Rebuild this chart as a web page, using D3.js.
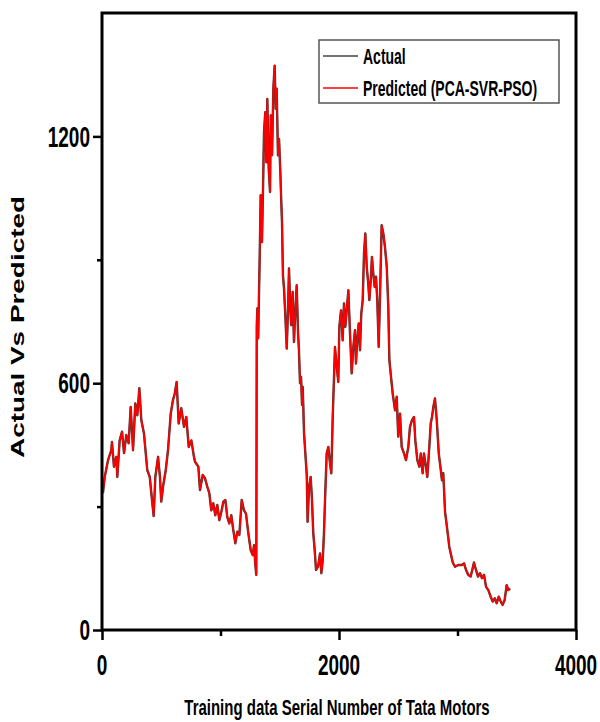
<!DOCTYPE html>
<html>
<head>
<meta charset="utf-8">
<script src="https://cdn.jsdelivr.net/npm/d3@7"></script>
<style>
  body { margin: 0; background: #fff; }
  text { font-family: "Liberation Sans", Arial, sans-serif; font-weight: bold; }
</style>
</head>
<body>
<div id="chart"></div>
<script>
// serial numbers (x) and values
var serialNo = [8, 23, 51, 78, 84, 101, 121, 129, 149, 169, 186, 205, 225, 242, 262, 281, 298, 315, 332, 354,
  382, 403, 422, 436, 450, 473, 489, 500, 517, 538, 557, 580, 599, 614, 630, 647, 669, 692, 711, 732,
  754, 776, 785, 813, 827, 850, 869, 889, 906, 922, 939, 956, 973, 990, 1010, 1024, 1041, 1057, 1074, 1091,
  1108, 1125, 1142, 1159, 1179, 1198, 1215, 1235, 1255, 1272, 1283, 1294, 1302, 1306, 1311, 1318, 1331, 1339, 1350, 1359,
  1367, 1378, 1387, 1395, 1407, 1418, 1424, 1435, 1446, 1457, 1466, 1474, 1485, 1494, 1505, 1513, 1519, 1527, 1536, 1547,
  1559, 1570, 1578, 1589, 1597, 1609, 1620, 1631, 1643, 1654, 1662, 1671, 1680, 1688, 1694, 1705, 1716, 1728, 1735, 1747,
  1761, 1772, 1783, 1795, 1806, 1823, 1840, 1851, 1863, 1873, 1884, 1896, 1910, 1924, 1935, 1947, 1958, 1966, 1981, 1994,
  2003, 2017, 2031, 2042, 2053, 2065, 2079, 2093, 2107, 2121, 2135, 2143, 2154, 2166, 2177, 2188, 2200, 2211, 2222, 2234,
  2247, 2256, 2268, 2278, 2289, 2301, 2312, 2323, 2335, 2346, 2360, 2374, 2388, 2403, 2416, 2425, 2436, 2453, 2473, 2487,
  2500, 2515, 2529, 2549, 2565, 2585, 2599, 2616, 2633, 2644, 2661, 2678, 2690, 2706, 2717, 2734, 2745, 2762, 2774, 2785,
  2796, 2810, 2825, 2842, 2859, 2869, 2880, 2895, 2909, 2931, 2960, 2979, 3007, 3035, 3055, 3072, 3091, 3111, 3128, 3139,
  3156, 3173, 3190, 3207, 3224, 3241, 3260, 3280, 3297, 3314, 3331, 3348, 3365, 3381, 3398, 3415, 3429, 3443];

var actual = [333, 372, 413, 437, 457, 397, 421, 372, 461, 482, 430, 474, 454, 542, 437, 551, 522, 588, 510, 478,
  389, 372, 316, 277, 372, 421, 372, 312, 352, 389, 437, 526, 559, 575, 603, 502, 539, 494, 518, 445,
  461, 421, 409, 397, 340, 377, 369, 348, 332, 291, 308, 279, 304, 267, 291, 312, 316, 275, 259, 279,
  243, 211, 239, 231, 316, 291, 283, 235, 194, 182, 206, 158, 134, 740, 782, 709, 911, 1057, 943, 1074,
  1210, 1259, 1137, 1291, 1121, 1065, 1251, 1154, 1316, 1372, 1267, 1316, 1154, 1194, 1113, 1040, 992, 862, 830, 765,
  684, 781, 879, 781, 741, 822, 700, 773, 838, 725, 680, 600, 615, 547, 591, 478, 429, 376, 263, 348,
  372, 316, 235, 194, 146, 154, 186, 138, 170, 235, 332, 429, 445, 405, 381, 518, 615, 688, 640, 603,
  737, 777, 704, 794, 737, 777, 826, 721, 624, 688, 729, 648, 704, 745, 680, 769, 802, 915, 964, 883,
  842, 802, 850, 907, 867, 834, 859, 802, 688, 810, 984, 964, 931, 883, 785, 656, 624, 575, 534, 567,
  470, 526, 445, 429, 413, 445, 494, 510, 518, 461, 413, 397, 429, 381, 429, 397, 372, 445, 502, 518,
  542, 563, 510, 429, 389, 364, 381, 287, 255, 202, 164, 154, 158, 158, 162, 146, 134, 130, 150, 164,
  146, 130, 138, 126, 134, 105, 97, 81, 69, 77, 65, 81, 69, 61, 73, 109, 97, 101];

// the model output sits on top of the actual series everywhere in the picture
var predicted = actual.slice();

var xTicks = [0, 2000, 4000], xMinor = [1000, 3000];
var yTicks = [0, 600, 1200], yMinor = [300, 900];

var width = 600, height = 722;
var margin = {top: 13, right: 24, bottom: 92, left: 102};

var svg = d3.select("#chart").append("svg")
  .attr("width", width)
  .attr("height", height);

var x = d3.scaleLinear().domain([0, 4000]).range([margin.left, width - margin.right]);
var y = d3.scaleLinear().domain([0, 1500]).range([height - margin.bottom, margin.top]);

var plotH = height - margin.bottom;

// lines
var line = d3.line()
  .x((d, i) => x(serialNo[i]))
  .y(d => y(d));

svg.append("clipPath").attr("id", "clip")
  .append("rect")
  .attr("x", x(0)).attr("y", y(1500))
  .attr("width", x(4000) - x(0)).attr("height", y(0) - y(1500));

var plot = svg.append("g").attr("clip-path", "url(#clip)");

plot.append("path")
  .datum(actual)
  .attr("fill", "none")
  .attr("stroke", "#3a3a3a")
  .attr("stroke-width", 2.4)
  .attr("stroke-linejoin", "round")
  .attr("d", line);

plot.append("path")
  .datum(predicted)
  .attr("fill", "none")
  .attr("stroke", "#ff0000")
  .attr("stroke-width", 1.7)
  .attr("stroke-linejoin", "round")
  .attr("d", line);

// axes
svg.append("g")
  .attr("transform", "translate(0," + plotH + ")")
  .call(d3.axisBottom(x).tickValues(xTicks).tickSize(10).tickSizeOuter(0).tickFormat(""));
svg.append("g")
  .attr("transform", "translate(0," + plotH + ")")
  .call(d3.axisBottom(x).tickValues(xMinor).tickSize(6).tickSizeOuter(0).tickFormat(""));
svg.append("g")
  .attr("transform", "translate(" + margin.left + ",0)")
  .call(d3.axisLeft(y).tickValues(yTicks).tickSize(9).tickSizeOuter(0).tickFormat(""));
svg.append("g")
  .attr("transform", "translate(" + margin.left + ",0)")
  .call(d3.axisLeft(y).tickValues(yMinor).tickSize(5).tickSizeOuter(0).tickFormat(""));

svg.selectAll(".domain").remove();
svg.selectAll(".tick line").attr("stroke", "#000").attr("stroke-width", 2.5);

// frame
svg.append("rect")
  .attr("x", x(0)).attr("y", y(1500))
  .attr("width", x(4000) - x(0)).attr("height", y(0) - y(1500))
  .attr("fill", "none")
  .attr("stroke", "#000")
  .attr("stroke-width", 3);

// tick labels (the source figure is stretched vertically)
svg.selectAll(".xlab")
  .data(xTicks)
  .enter()
  .append("text")
  .attr("transform", d => "translate(" + x(d) + "," + (plotH + 35) + ") scale(1,1.55)")
  .attr("text-anchor", "middle")
  .attr("dominant-baseline", "central")
  .attr("font-size", 19)
  .text(d => d);

svg.selectAll(".ylab")
  .data(yTicks)
  .enter()
  .append("text")
  .attr("transform", d => "translate(" + (margin.left - 12) + "," + y(d) + ") scale(1,1.55)")
  .attr("text-anchor", "end")
  .attr("dominant-baseline", "central")
  .attr("font-size", 19)
  .text(d => d);

// axis titles
svg.append("text")
  .attr("transform", "translate(337,707) scale(1,1.5)")
  .attr("text-anchor", "middle")
  .attr("dominant-baseline", "central")
  .attr("font-size", 15)
  .text("Training data Serial Number of Tata Motors");

svg.append("text")
  .attr("transform", "translate(18,327) rotate(-90) scale(1.55,1)")
  .attr("text-anchor", "middle")
  .attr("dominant-baseline", "central")
  .attr("font-size", 18)
  .text("Actual Vs Predicted");

// legend
var legend = svg.append("g");
legend.append("rect")
  .attr("x", 319).attr("y", 40)
  .attr("width", 240).attr("height", 63)
  .attr("fill", "#fff")
  .attr("stroke", "#555")
  .attr("stroke-width", 1.5);

var legendItems = [
  {label: "Actual", color: "#444"},
  {label: "Predicted (PCA-SVR-PSO)", color: "#ff0000"}
];

legendItems.forEach((item, i) => {
  var ly = 56 + i * 32;
  legend.append("line")
    .attr("x1", 323).attr("x2", 358)
    .attr("y1", ly).attr("y2", ly)
    .attr("stroke", item.color)
    .attr("stroke-width", 1.5);
  legend.append("text")
    .attr("transform", "translate(363," + ly + ") scale(1,1.55)")
    .attr("dominant-baseline", "central")
    .attr("font-size", 14)
    .text(item.label);
});
</script>
</body>
</html>
